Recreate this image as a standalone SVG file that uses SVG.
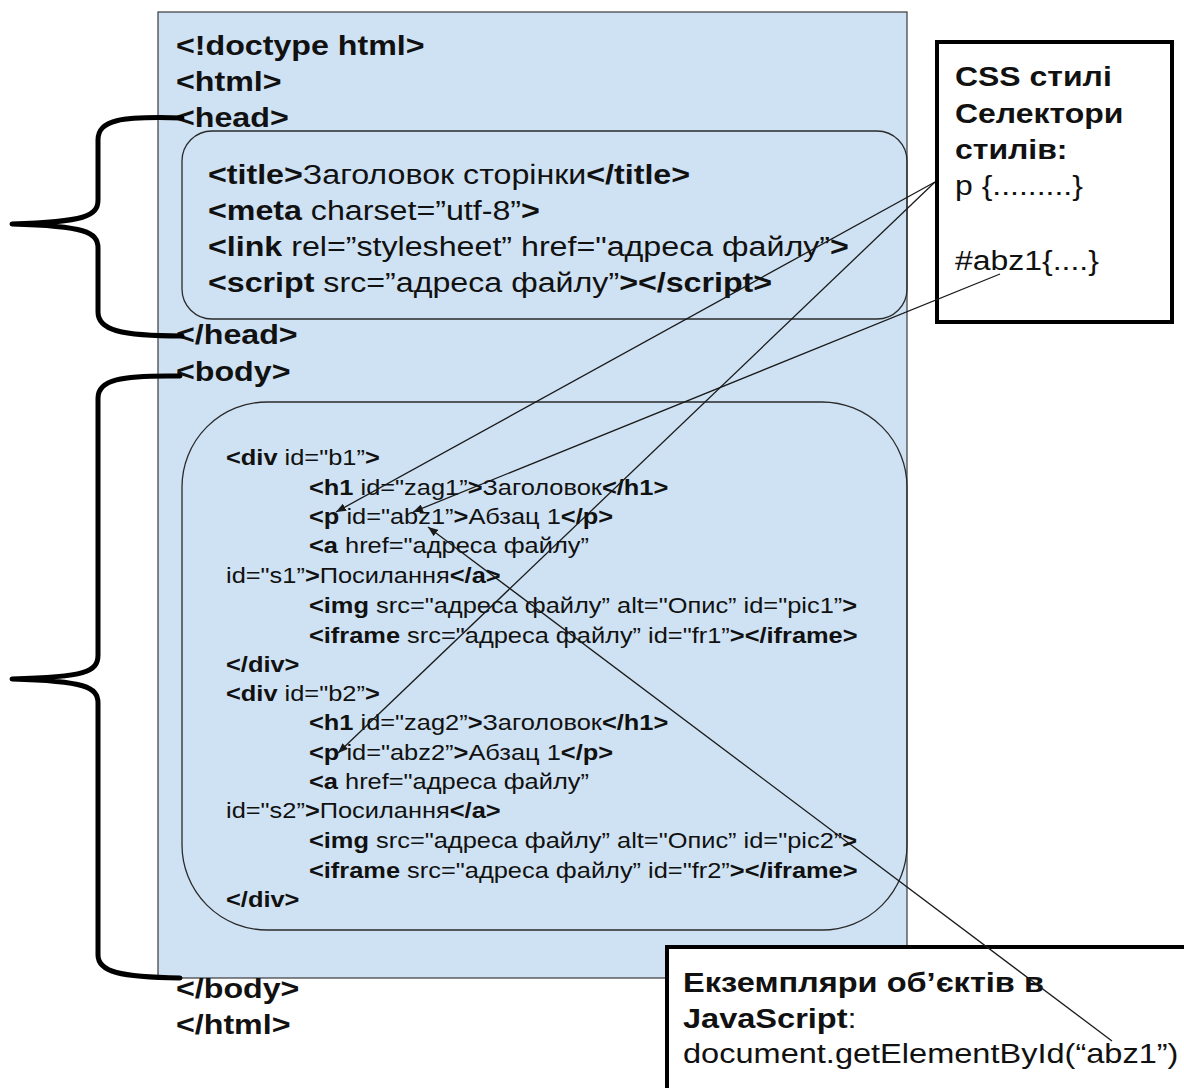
<svg xmlns="http://www.w3.org/2000/svg" width="1184" height="1088" viewBox="0 0 1184 1088">
  <style>
    text { font-family: "Liberation Sans", Arial, sans-serif; fill: #111; transform-box: fill-box; transform-origin: 0 0; transform: scaleX(1.15); }
    .b { font-weight: bold; }
    .main { font-size: 28px; }
    .code { font-size: 22.1px; }
    .note { font-size: 27.8px; }
    .js { font-size: 28.3px; }
    .page { fill: #cfe2f3; stroke: #3a3a3a; stroke-width: 1.2; }
    .zone { fill: none; stroke: #2a2a2a; stroke-width: 1.3; }
    .panel { fill: #fff; stroke: #000; stroke-width: 4; }
    .brace { fill: none; stroke: #000; stroke-width: 5; stroke-linecap: round; stroke-linejoin: round; }
    .link { fill: none; stroke: #1a1a1a; stroke-width: 1.3; marker-end: url(#tip); }
  </style>
  <defs>
    <marker id="tip" viewBox="0 0 10 8" refX="10" refY="4" markerWidth="10" markerHeight="8" markerUnits="userSpaceOnUse" orient="auto">
      <path d="M0,0 L10,4 L0,8 Z" fill="#1a1a1a"/>
    </marker>
  </defs>

  <!-- HTML document page -->
  <g id="page">
    <rect class="page" x="158" y="12" width="749" height="966"/>
    <text class="main b" x="176" y="55">&lt;!doctype html&gt;</text>
    <text class="main b" x="176" y="91">&lt;html&gt;</text>
    <text class="main b" x="176" y="127">&lt;head&gt;</text>
    <text class="main b" x="176" y="344">&lt;/head&gt;</text>
    <text class="main b" x="176" y="381">&lt;body&gt;</text>
    <text class="main b" x="176" y="998">&lt;/body&gt;</text>
    <text class="main b" x="176" y="1034">&lt;/html&gt;</text>
  </g>

  <!-- head section contents -->
  <g id="head-section">
    <rect class="zone" x="182" y="131" width="725" height="188" rx="30" ry="30"/>
    <text class="main" x="208" y="184"><tspan class="b">&lt;title&gt;</tspan>Заголовок сторінки<tspan class="b">&lt;/title&gt;</tspan></text>
    <text class="main" x="208" y="220"><tspan class="b">&lt;meta</tspan> charset=”utf-8”<tspan class="b">&gt;</tspan></text>
    <text class="main" x="208" y="256"><tspan class="b">&lt;link</tspan> rel=”stylesheet” href="адреса файлу”<tspan class="b">&gt;</tspan></text>
    <text class="main" x="208" y="292"><tspan class="b">&lt;script</tspan> src=”адреса файлу”<tspan class="b">&gt;&lt;/script&gt;</tspan></text>
  </g>

  <!-- body section contents -->
  <g id="body-section">
    <rect class="zone" x="182" y="402" width="725" height="528" rx="85" ry="85"/>
    <text class="code" x="226" y="465"><tspan class="b">&lt;div</tspan> id="b1”<tspan class="b">&gt;</tspan></text>
    <text class="code" x="309" y="495"><tspan class="b">&lt;h1</tspan> id="zag1”<tspan class="b">&gt;</tspan>Заголовок<tspan class="b">&lt;/h1&gt;</tspan></text>
    <text class="code" x="309" y="524"><tspan class="b">&lt;p</tspan> id="abz1”<tspan class="b">&gt;</tspan>Абзац 1<tspan class="b">&lt;/p&gt;</tspan></text>
    <text class="code" x="309" y="553"><tspan class="b">&lt;a</tspan> href="адреса файлу”</text>
    <text class="code" x="226" y="583">id="s1”<tspan class="b">&gt;</tspan>Посилання<tspan class="b">&lt;/a&gt;</tspan></text>
    <text class="code" x="309" y="613"><tspan class="b">&lt;img</tspan> src="адреса файлу” alt="Опис” id="pic1”<tspan class="b">&gt;</tspan></text>
    <text class="code" x="309" y="643"><tspan class="b">&lt;iframe</tspan> src="адреса файлу” id="fr1”<tspan class="b">&gt;&lt;/iframe&gt;</tspan></text>
    <text class="code b" x="226" y="672">&lt;/div&gt;</text>
    <text class="code" x="226" y="701"><tspan class="b">&lt;div</tspan> id="b2”<tspan class="b">&gt;</tspan></text>
    <text class="code" x="309" y="730"><tspan class="b">&lt;h1</tspan> id="zag2”<tspan class="b">&gt;</tspan>Заголовок<tspan class="b">&lt;/h1&gt;</tspan></text>
    <text class="code" x="309" y="760"><tspan class="b">&lt;p</tspan> id="abz2”<tspan class="b">&gt;</tspan>Абзац 1<tspan class="b">&lt;/p&gt;</tspan></text>
    <text class="code" x="309" y="789"><tspan class="b">&lt;a</tspan> href="адреса файлу”</text>
    <text class="code" x="226" y="818">id="s2”<tspan class="b">&gt;</tspan>Посилання<tspan class="b">&lt;/a&gt;</tspan></text>
    <text class="code" x="309" y="848"><tspan class="b">&lt;img</tspan> src="адреса файлу” alt="Опис” id="pic2”<tspan class="b">&gt;</tspan></text>
    <text class="code" x="309" y="878"><tspan class="b">&lt;iframe</tspan> src="адреса файлу” id="fr2”<tspan class="b">&gt;&lt;/iframe&gt;</tspan></text>
    <text class="code b" x="226" y="907">&lt;/div&gt;</text>
  </g>

  <!-- curly braces marking head and body -->
  <g id="head-brace">
    <path class="brace" d="M182,118 C120,116 98,120 98,140 L98,200 C98,216 85,222 12,224 C85,226 98,232 98,248 L98,312 C98,330 120,336 182,336"/>
  </g>
  <g id="body-brace">
    <path class="brace" d="M180,376 C120,375 98,380 98,398 L98,655 C98,672 85,677 12,679 C85,681 98,687 98,703 L98,955 C98,972 120,977 180,978"/>
  </g>

  <!-- CSS selectors panel -->
  <g id="css-panel">
    <rect class="panel" x="937" y="42" width="235" height="280"/>
    <text class="note b" x="955" y="86">CSS стилі</text>
    <text class="note b" x="955" y="123">Селектори</text>
    <text class="note b" x="955" y="159">стилів:</text>
    <text class="note" x="955" y="195">p {.........}</text>
    <text class="note" x="955" y="270">#abz1{....}</text>
  </g>

  <!-- JavaScript objects panel -->
  <g id="js-panel">
    <rect class="panel" x="667" y="947" width="540" height="170"/>
    <text class="js b" x="683" y="992">Екземпляри об’єктів в</text>
    <text class="js" x="683" y="1028"><tspan class="b">JavaScript</tspan>:</text>
    <text class="js" x="683" y="1063">document.getElementById(“abz1”)</text>
  </g>

  <!-- connectors from selectors and script to elements -->
  <g id="connectors">
    <path class="link" d="M935,182 L336,512"/>
    <path class="link" d="M935,182 L338,753"/>
    <path class="link" d="M1000,274 L413,512"/>
    <path class="link" d="M1112,1041 L428,527"/>
  </g>
</svg>
